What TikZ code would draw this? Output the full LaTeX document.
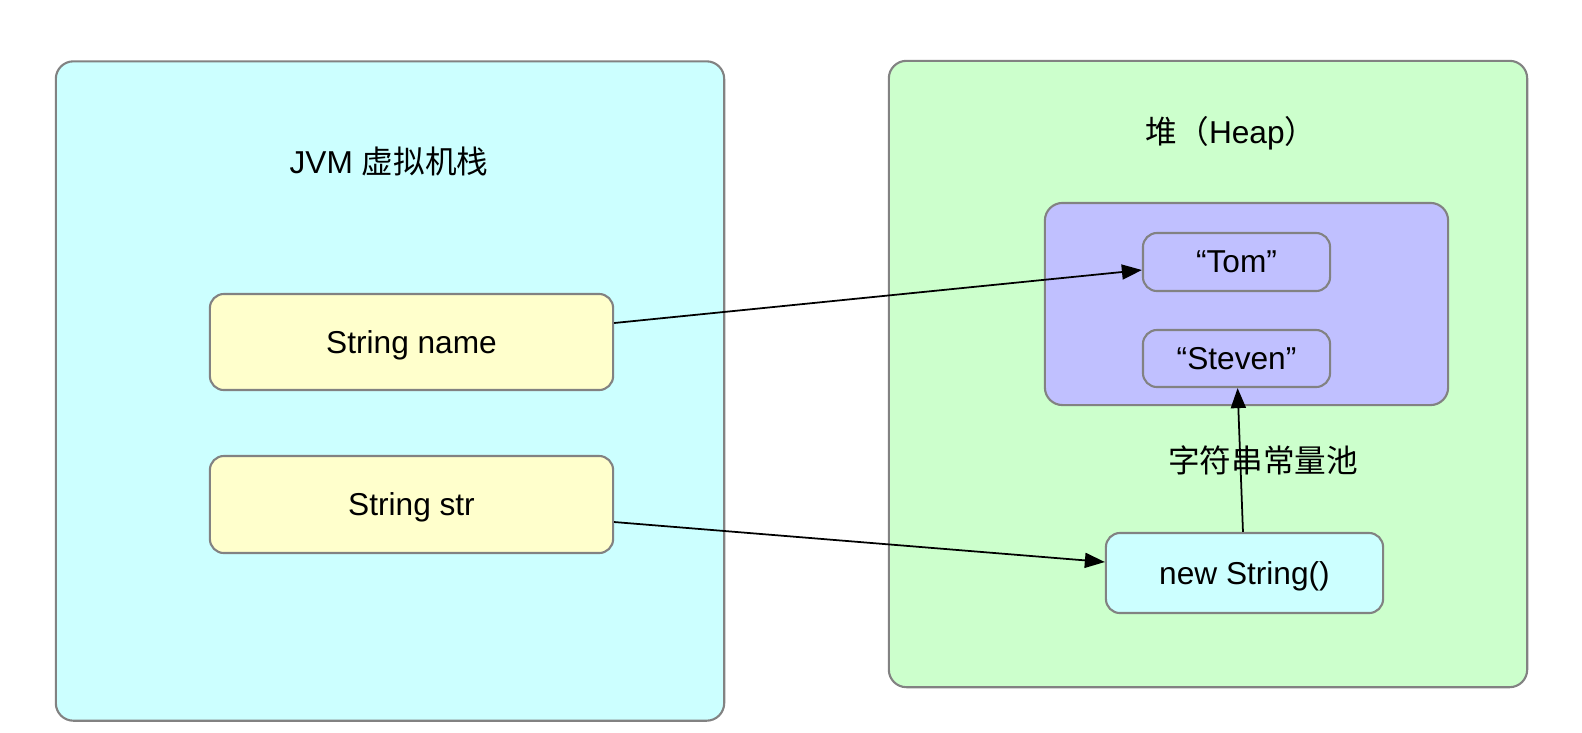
\documentclass[tikz,border=0pt]{standalone}
\usepackage{fontspec}
\setmainfont{Liberation Sans}
\newfontfamily\cjk{Noto Sans CJK SC}
\usetikzlibrary{arrows.meta, positioning}
\definecolor{cstack}{HTML}{CCFFFF}
\definecolor{cheap}{HTML}{CCFFCC}
\definecolor{cpool}{HTML}{C0C0FF}
\definecolor{cvar}{HTML}{FFFFCC}
\definecolor{cborder}{HTML}{828282}
\tikzset{
  every picture/.style={font=\fontsize{9}{11}\selectfont, line width=0.6pt},
  region/.style={draw=cborder, fill=#1, rounded corners=5pt, inner sep=0pt},
  box/.style={draw=cborder, fill=#1, rounded corners=4pt, align=center, inner sep=0pt, text depth=0pt},
  ref/.style={-{Triangle[length=2mm, width=1.5mm]}, line width=0.5pt},
  title/.style={align=center},
}

\begin{document}
\begin{tikzpicture}[x=0.01cm, y=-0.01cm]
  \useasboundingbox (0,0) rectangle (1582,732);
  % stack side
  \node[region=cstack, minimum width=6.68cm, minimum height=6.59cm] (stack) at (390,391) {};
  \node[title] (stacktitle) at (389,161) {JVM {\cjk 虚拟机栈}};
  \node[box=cvar, minimum width=4.03cm, minimum height=0.96cm] (name) at (411.5,342) {String name};
  \node[box=cvar, minimum width=4.03cm, minimum height=0.97cm] (str) at (411.5,504.5) {String str};
  % heap side
  \node[region=cheap, minimum width=6.38cm, minimum height=6.26cm] (heap) at (1208,374) {};
  \node[title] (heaptitle) at (1231,133) {{\cjk 堆（}Heap{\cjk ）}};
  \node[region=cpool, minimum width=4.03cm, minimum height=2.02cm] (pool) at (1246.5,304) {};
  \node[box=cpool, minimum width=1.87cm, minimum height=0.58cm] (tom) at (1236.5,262) {“Tom”};
  \node[box=cpool, minimum width=1.87cm, minimum height=0.57cm] (steven) at (1236.5,358.5) {“Steven”};
  \node[title] (pooltitle) at (1263,460) {\cjk 字符串常量池};
  \node[box=cstack, minimum width=2.77cm, minimum height=0.80cm] (newstr) at (1244.5,573) {new String()};
  % references
  \draw[ref] ([yshift=0.19cm]name.east) -- ([yshift=-0.08cm]tom.west);
  \draw[ref] ([yshift=-0.175cm]str.east) -- ([yshift=0.11cm]newstr.west);
  \draw[ref] (newstr) -- (steven);
\end{tikzpicture}
\end{document}
